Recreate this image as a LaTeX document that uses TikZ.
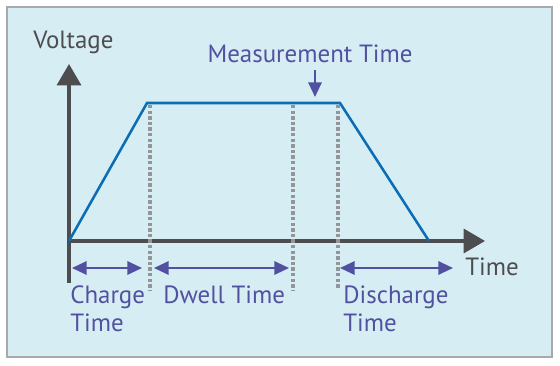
\documentclass[tikz,border=0pt]{standalone}
\usepackage{fontspec}
\setmainfont{PT Sans}
\usetikzlibrary{arrows.meta}
\definecolor{bgblue}{HTML}{D6EDF3}
\definecolor{framegray}{HTML}{A7A9AC}
\definecolor{axisgray}{HTML}{4D4D4F}
\definecolor{dotgray}{HTML}{939598}
\definecolor{pulseblue}{HTML}{0B6DB5}
\definecolor{labelpurple}{HTML}{5251A1}
\tikzset{
  axis/.style={axisgray, line width=2.5pt, -{Triangle[length=16pt,width=18pt]}},
  pulse/.style={pulseblue, line width=1.9pt, line join=miter},
  dotline/.style={draw=dotgray, line width=2.4pt, dash pattern=on 2.6pt off 1.6pt},
  span/.style={labelpurple, line width=1.6pt, {Triangle[length=11pt,width=10pt]}-{Triangle[length=11pt,width=10pt]}},
  lbl/.style={labelpurple, font=\fontsize{18.7}{21}\selectfont, inner sep=0pt, align=left},
  axlbl/.style={axisgray, font=\fontsize{18.7}{21}\selectfont, inner sep=0pt}
}

\begin{document}
\begin{tikzpicture}[x=0.75pt,y=-0.75pt]
   \useasboundingbox (0,0) rectangle (560,366);
   \draw[framegray, fill=bgblue, line width=1.6pt] (7,7) rectangle (552,357);
   % axes
   \coordinate (o)     at (69,241);
   \coordinate (ybot)  at (69,283);
   \coordinate (ytip)  at (69,64);
   \coordinate (xtip)  at (485,241);
   \draw[axis] (ybot) -- (ytip);
   \draw[axis] (o) -- (xtip);
   % pulse
   \coordinate (p1) at (147,103);
   \coordinate (p2) at (340,103);
   \coordinate (p3) at (429,241);
   \draw[pulse] (o) -- (p1) -- (p2) -- (p3);
   % markers
   \coordinate (d1t) at (150,105);
   \coordinate (d1b) at (150,291);
   \coordinate (d2t) at (293,105);
   \coordinate (d2b) at (293,291);
   \coordinate (d3t) at (338,105);
   \coordinate (d3b) at (338,289);
   \draw[dotline] (d1t) -- (d1b);
   \draw[dotline] (d2t) -- (d2b);
   \draw[dotline] (d3t) -- (d3b);
   % spans
   \coordinate (s1a) at (72,268);
   \coordinate (s1b) at (142,268);
   \coordinate (s2a) at (154,268);
   \coordinate (s2b) at (289,268);
   \coordinate (s3a) at (340,268);
   \coordinate (s3b) at (453,268);
   \draw[span] (s1a) -- (s1b);
   \draw[span] (s2a) -- (s2b);
   \draw[span] (s3a) -- (s3b);
   % labels
   \node[axlbl, anchor=base west] (volt) at (33,49) {Voltage};
   \node[axlbl, anchor=base west] (time) at (465,276) {Time};
   \node[lbl, anchor=base] (meas) at (310,63) {Measurement Time};
   \coordinate (mtop) at (315,70);
   \coordinate (mtip) at (315,97);
   \draw[labelpurple, line width=1.6pt, -{Triangle[length=11pt,width=10pt]}] (mtop) -- (mtip);
   \node[lbl, anchor=base west] (charge) at (70,332) {Charge\\Time};
   \node[lbl, anchor=base west] (dwell) at (163,304) {Dwell Time};
   \node[lbl, anchor=base west] (dis) at (343,332) {Discharge\\Time};
\end{tikzpicture}
\end{document}
